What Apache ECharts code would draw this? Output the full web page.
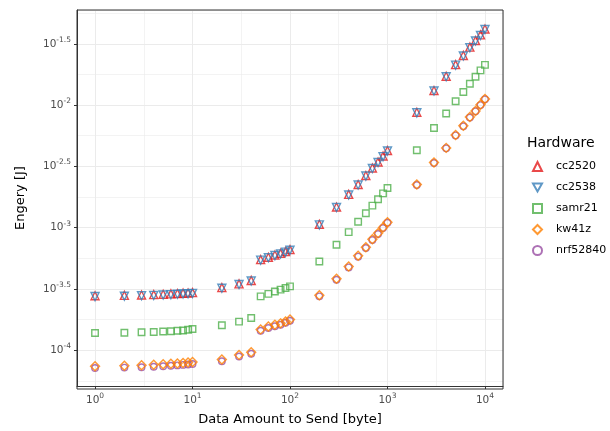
<!DOCTYPE html>
<html lang="en">
<head>
    <meta charset="utf-8"/>
    <title>Energy vs data amount</title>
    <script src="https://cdn.jsdelivr.net/npm/echarts@6/dist/echarts.min.js"></script>
    <style>
        html, body { margin: 0; padding: 0; background: #fff; }
        #chart { width: 610px; height: 431px; }
    </style>
</head>
<body>
    <div id="chart"></div>
    <script>
        // data amount in bytes (x)
        const bytes = [1, 2, 3, 4, 5, 6, 7, 8, 9, 10,
            20, 30, 40, 50, 60, 70, 80, 90, 100,
            200, 300, 400, 500, 600, 700, 800, 900, 1000,
            2000, 3000, 4000, 5000, 6000, 7000, 8000, 9000, 10000];

        // energy in joules per hardware
        const cc2520 = [2.78e-4, 2.80e-4, 2.82e-4, 2.84e-4, 2.86e-4, 2.88e-4, 2.90e-4, 2.92e-4, 2.93e-4, 2.95e-4,
            3.24e-4, 3.48e-4, 3.71e-4, 5.49e-4, 5.74e-4, 5.98e-4, 6.17e-4, 6.38e-4, 6.62e-4,
            1.065e-3, 1.474e-3, 1.868e-3, 2.250e-3, 2.662e-3, 3.07e-3, 3.43e-3, 3.84e-3, 4.26e-3,
            8.74e-3, 1.316e-2, 1.719e-2, 2.139e-2, 2.543e-2, 2.973e-2, 3.367e-2, 3.74e-2, 4.18e-2];
        const cc2538 = [2.74e-4, 2.76e-4, 2.78e-4, 2.80e-4, 2.82e-4, 2.84e-4, 2.86e-4, 2.88e-4, 2.89e-4, 2.91e-4,
            3.20e-4, 3.44e-4, 3.67e-4, 5.43e-4, 5.68e-4, 5.92e-4, 6.11e-4, 6.31e-4, 6.55e-4,
            1.054e-3, 1.459e-3, 1.849e-3, 2.228e-3, 2.636e-3, 3.04e-3, 3.40e-3, 3.80e-3, 4.22e-3,
            8.65e-3, 1.303e-2, 1.702e-2, 2.118e-2, 2.518e-2, 2.944e-2, 3.334e-2, 3.70e-2, 4.14e-2];
        const samr21 = [1.38e-4, 1.39e-4, 1.40e-4, 1.41e-4, 1.42e-4, 1.43e-4, 1.44e-4, 1.45e-4, 1.47e-4, 1.49e-4,
            1.60e-4, 1.71e-4, 1.83e-4, 2.75e-4, 2.88e-4, 3.01e-4, 3.12e-4, 3.22e-4, 3.32e-4,
            5.30e-4, 7.26e-4, 9.20e-4, 1.117e-3, 1.312e-3, 1.514e-3, 1.706e-3, 1.905e-3, 2.104e-3,
            4.28e-3, 6.50e-3, 8.53e-3, 1.076e-2, 1.279e-2, 1.493e-2, 1.702e-2, 1.919e-2, 2.128e-2];
        const kw41z = [7.41e-5, 7.47e-5, 7.53e-5, 7.60e-5, 7.67e-5, 7.74e-5, 7.80e-5, 7.87e-5, 7.94e-5, 8.00e-5,
            8.39e-5, 9.16e-5, 9.64e-5, 1.479e-4, 1.563e-4, 1.614e-4, 1.656e-4, 1.718e-4, 1.782e-4,
            2.805e-4, 3.828e-4, 4.82e-4, 5.89e-4, 6.92e-4, 8.04e-4, 8.99e-4, 1.005e-3, 1.109e-3,
            2.254e-3, 3.404e-3, 4.477e-3, 5.70e-3, 6.78e-3, 7.98e-3, 8.97e-3, 1.005e-2, 1.122e-2];
        const nrf52840 = [7.15e-5, 7.21e-5, 7.27e-5, 7.33e-5, 7.40e-5, 7.46e-5, 7.52e-5, 7.59e-5, 7.65e-5, 7.72e-5,
            8.12e-5, 8.88e-5, 9.36e-5, 1.44e-4, 1.52e-4, 1.57e-4, 1.615e-4, 1.676e-4, 1.74e-4,
            2.75e-4, 3.76e-4, 4.74e-4, 5.80e-4, 6.82e-4, 7.93e-4, 8.88e-4, 9.93e-4, 1.097e-3,
            2.23e-3, 3.37e-3, 4.44e-3, 5.66e-3, 6.73e-3, 7.93e-3, 8.92e-3, 1.00e-2, 1.117e-2];

        const hardware = ['cc2520', 'cc2538', 'samr21', 'kw41z', 'nrf52840'];
        const xTickExponents = [0, 1, 2, 3, 4];
        const yTickExponents = [-4, -3.5, -3, -2.5, -2, -1.5];

        const chart = echarts.init(document.getElementById('chart'), null, {renderer: 'canvas'});

        // axes are drawn in log10 space, so the half-decade grid of the original can be kept
        function toLog(ys) {
            return bytes.map(function (x, i) {
                return [Math.log10(x), Math.log10(ys[i])];
            });
        }

        function powLabel(v, list) {
            for (let i = 0; i < list.length; i++) {
                if (Math.abs(v - list[i]) < 1e-6) {
                    return '{b|10}{s|' + list[i] + '}';
                }
            }
            return '';
        }

        const labelRich = {
            b: {fontSize: 10.5, color: '#4D4D4D', fontFamily: 'DejaVu Sans'},
            s: {fontSize: 7.5, color: '#4D4D4D', fontFamily: 'DejaVu Sans', padding: [0, 0, 8, 0]}
        };

        function makeSeries(name, ys, symbol, color, size, z) {
            return {
                name: name,
                type: 'scatter',
                data: toLog(ys),
                symbol: symbol,
                symbolSize: size,
                z: z,
                itemStyle: {
                    color: 'rgba(0,0,0,0)',
                    borderColor: color,
                    borderWidth: 1.4
                },
                emphasis: {disabled: true}
            };
        }

        const gridColor = '#EBEBEB';
        const triangleDown = 'path://M0,0L2,0L1,1.732Z';

        const option = {
            animation: false,
            backgroundColor: '#fff',
            textStyle: {fontFamily: 'DejaVu Sans'},
            grid: {left: 77, right: 107, top: 10, bottom: 42, containLabel: false},
            title: {
                text: 'Hardware',
                left: 527,
                top: 136,
                padding: 0,
                textStyle: {fontSize: 14, fontWeight: 'normal', color: '#000', fontFamily: 'DejaVu Sans'}
            },
            legend: {
                orient: 'vertical',
                left: 532,
                top: 160,
                padding: 0,
                itemWidth: 9,
                itemHeight: 9,
                itemGap: 8,
                textStyle: {fontSize: 11, lineHeight: 13, color: '#000', fontFamily: 'DejaVu Sans', padding: [0, 0, 0, 9]},
                data: hardware
            },
            xAxis: {
                type: 'value',
                min: -0.185,
                max: 4.185,
                splitNumber: 5,
                name: 'Data Amount to Send [byte]',
                nameLocation: 'middle',
                nameGap: 27,
                nameTextStyle: {fontSize: 13, color: '#000', fontFamily: 'DejaVu Sans'},
                axisLine: {show: true, onZero: false, lineStyle: {color: '#333', width: 1}},
                axisTick: {show: true, length: 3, lineStyle: {color: '#333'}},
                axisLabel: {
                    margin: 6,
                    showMinLabel: false,
                    showMaxLabel: false,
                    formatter: function (v) { return powLabel(v, xTickExponents); },
                    rich: labelRich
                },
                splitLine: {show: true, lineStyle: {color: gridColor, width: 1}},
                minorTick: {show: false, splitNumber: 2},
                minorSplitLine: {show: true, lineStyle: {color: gridColor, width: 0.6}}
            },
            yAxis: {
                type: 'value',
                min: -4.292,
                max: -1.224,
                splitNumber: 6,
                name: 'Engery [J]',
                nameLocation: 'middle',
                nameGap: 50,
                nameTextStyle: {fontSize: 13, color: '#000', fontFamily: 'DejaVu Sans'},
                axisLine: {show: true, onZero: false, lineStyle: {color: '#333', width: 1}},
                axisTick: {show: true, length: 3, lineStyle: {color: '#333'}},
                axisLabel: {
                    margin: 6,
                    showMinLabel: false,
                    showMaxLabel: false,
                    formatter: function (v) { return powLabel(v, yTickExponents); },
                    rich: labelRich
                },
                splitLine: {show: true, lineStyle: {color: gridColor, width: 1}},
                minorTick: {show: false, splitNumber: 2},
                minorSplitLine: {show: true, lineStyle: {color: gridColor, width: 0.6}}
            },
            series: [
                makeSeries('cc2520', cc2520, 'triangle', '#E41A1C', 8, 2),
                makeSeries('cc2538', cc2538, triangleDown, '#377EB8', 8, 3),
                makeSeries('samr21', samr21, 'rect', '#4DAF4A', 6.5, 4),
                makeSeries('kw41z', kw41z, 'diamond', '#FF7F00', 9, 6),
                makeSeries('nrf52840', nrf52840, 'circle', '#984EA3', 6.5, 5)
            ],
            graphic: [{
                type: 'rect',
                shape: {x: 77, y: 10, width: 426, height: 379},
                style: {fill: 'none', stroke: '#333', lineWidth: 1},
                z: 100,
                silent: true
            }]
        };

        chart.setOption(option);
    </script>
</body>
</html>
